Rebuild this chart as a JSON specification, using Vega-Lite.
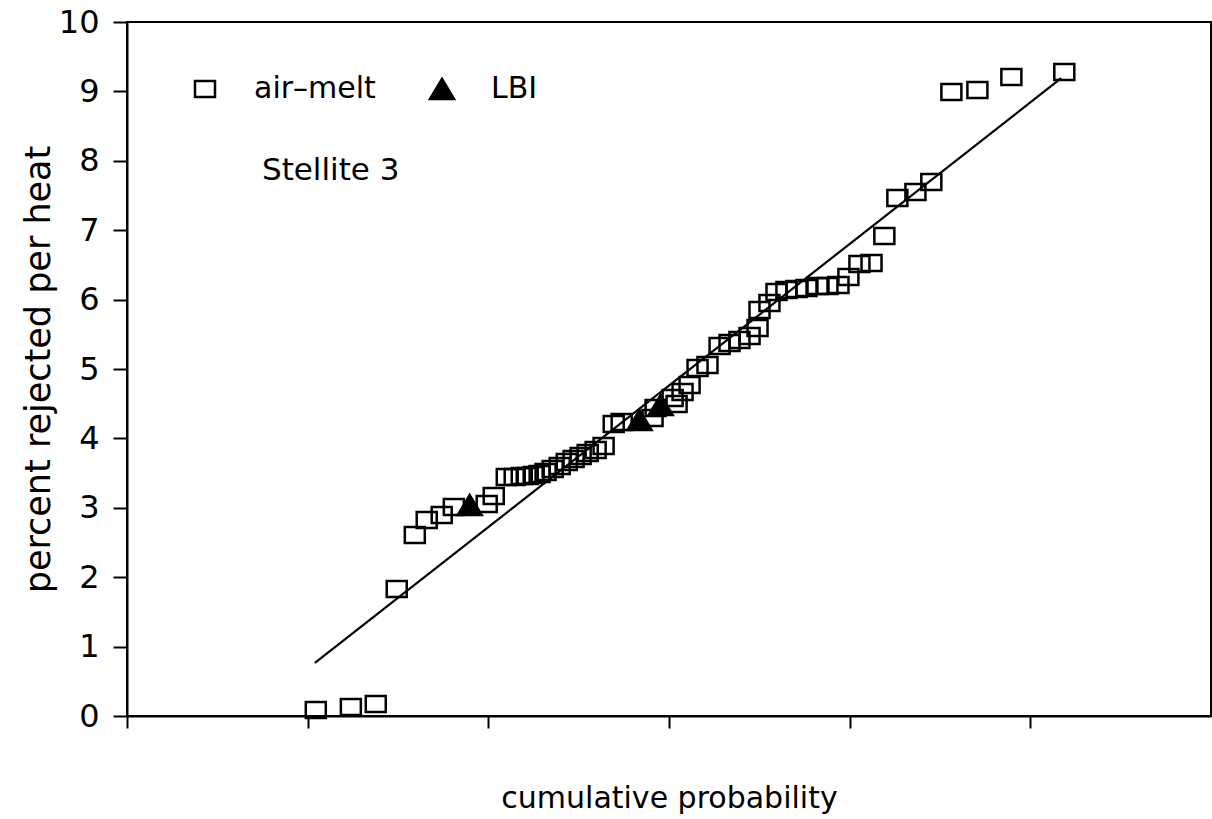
{
  "$schema": "https://vega.github.io/schema/vega-lite/v6.json",
  "autosize": {"type": "none"},
  "width": 1084,
  "height": 694,
  "padding": {"left": 127, "top": 22, "right": 1, "bottom": 103},
  "background": "white",
  "config": {
    "view": {"stroke": "black", "strokeWidth": 2},
    "font": "DejaVu Sans",
    "axis": {
      "domainColor": "black", "domainWidth": 2, "tickColor": "black", "tickWidth": 2,
      "labelColor": "black", "titleColor": "black", "titleFontWeight": "normal",
      "labelFont": "DejaVu Sans", "titleFont": "DejaVu Sans", "grid": false
    },
    "legend": {
      "orient": "none", "legendX": 63, "legendY": 52, "direction": "horizontal",
      "labelFont": "DejaVu Sans", "labelFontSize": 30, "labelColor": "black",
      "labelOffset": 34, "columnPadding": 49, "symbolStrokeWidth": 2.5,
      "title": null
    }
  },
  "datasets": {
    "points": [
      {"p": 1.045, "v": 0.086, "series": "air–melt"},
      {"p": 1.239, "v": 0.13, "series": "air–melt"},
      {"p": 1.377, "v": 0.173, "series": "air–melt"},
      {"p": 1.493, "v": 1.83, "series": "air–melt"},
      {"p": 1.593, "v": 2.608, "series": "air–melt"},
      {"p": 1.659, "v": 2.824, "series": "air–melt"},
      {"p": 1.742, "v": 2.896, "series": "air–melt"},
      {"p": 1.809, "v": 3.012, "series": "air–melt"},
      {"p": 1.991, "v": 3.055, "series": "air–melt"},
      {"p": 2.03, "v": 3.17, "series": "air–melt"},
      {"p": 2.102, "v": 3.444, "series": "air–melt"},
      {"p": 2.146, "v": 3.444, "series": "air–melt"},
      {"p": 2.185, "v": 3.458, "series": "air–melt"},
      {"p": 2.218, "v": 3.458, "series": "air–melt"},
      {"p": 2.251, "v": 3.473, "series": "air–melt"},
      {"p": 2.284, "v": 3.487, "series": "air–melt"},
      {"p": 2.317, "v": 3.516, "series": "air–melt"},
      {"p": 2.356, "v": 3.559, "series": "air–melt"},
      {"p": 2.395, "v": 3.602, "series": "air–melt"},
      {"p": 2.434, "v": 3.66, "series": "air–melt"},
      {"p": 2.472, "v": 3.703, "series": "air–melt"},
      {"p": 2.511, "v": 3.746, "series": "air–melt"},
      {"p": 2.55, "v": 3.79, "series": "air–melt"},
      {"p": 2.594, "v": 3.833, "series": "air–melt"},
      {"p": 2.638, "v": 3.89, "series": "air–melt"},
      {"p": 2.694, "v": 4.207, "series": "air–melt"},
      {"p": 2.738, "v": 4.236, "series": "air–melt"},
      {"p": 2.909, "v": 4.294, "series": "air–melt"},
      {"p": 2.926, "v": 4.438, "series": "air–melt"},
      {"p": 3.02, "v": 4.582, "series": "air–melt"},
      {"p": 3.042, "v": 4.496, "series": "air–melt"},
      {"p": 3.075, "v": 4.669, "series": "air–melt"},
      {"p": 3.114, "v": 4.769, "series": "air–melt"},
      {"p": 3.158, "v": 5.014, "series": "air–melt"},
      {"p": 3.213, "v": 5.058, "series": "air–melt"},
      {"p": 3.28, "v": 5.331, "series": "air–melt"},
      {"p": 3.335, "v": 5.375, "series": "air–melt"},
      {"p": 3.39, "v": 5.418, "series": "air–melt"},
      {"p": 3.446, "v": 5.476, "series": "air–melt"},
      {"p": 3.49, "v": 5.591, "series": "air–melt"},
      {"p": 3.501, "v": 5.85, "series": "air–melt"},
      {"p": 3.556, "v": 5.951, "series": "air–melt"},
      {"p": 3.595, "v": 6.11, "series": "air–melt"},
      {"p": 3.65, "v": 6.138, "series": "air–melt"},
      {"p": 3.706, "v": 6.153, "series": "air–melt"},
      {"p": 3.761, "v": 6.167, "series": "air–melt"},
      {"p": 3.822, "v": 6.196, "series": "air–melt"},
      {"p": 3.877, "v": 6.196, "series": "air–melt"},
      {"p": 3.938, "v": 6.21, "series": "air–melt"},
      {"p": 3.993, "v": 6.326, "series": "air–melt"},
      {"p": 4.054, "v": 6.513, "series": "air–melt"},
      {"p": 4.121, "v": 6.527, "series": "air–melt"},
      {"p": 4.192, "v": 6.916, "series": "air–melt"},
      {"p": 4.264, "v": 7.464, "series": "air–melt"},
      {"p": 4.364, "v": 7.55, "series": "air–melt"},
      {"p": 4.452, "v": 7.695, "series": "air–melt"},
      {"p": 4.563, "v": 8.991, "series": "air–melt"},
      {"p": 4.707, "v": 9.02, "series": "air–melt"},
      {"p": 4.895, "v": 9.207, "series": "air–melt"},
      {"p": 5.188, "v": 9.28, "series": "air–melt"},
      {"p": 1.897, "v": 3.04, "series": "LBI"},
      {"p": 2.837, "v": 4.265, "series": "LBI"},
      {"p": 2.954, "v": 4.481, "series": "LBI"}
    ],
    "fit": [
      {"p": 1.04, "v": 0.764},
      {"p": 5.171, "v": 9.19}
    ],
    "notes": [
      {"label": "Stellite 3"}
    ]
  },
  "layer": [
    {
      "data": {"name": "fit"},
      "mark": {"type": "line", "color": "black", "strokeWidth": 2.2},
      "encoding": {
        "x": {"field": "p", "type": "quantitative", "scale": {"domain": [0, 6], "nice": false, "zero": false},
              "axis": {"values": [0, 1, 2, 3, 4, 5], "labels": false, "tickSize": 12, "title": "cumulative probability", "titleFontSize": 30, "titlePadding": 54}},
        "y": {"field": "v", "type": "quantitative", "scale": {"domain": [0, 10], "nice": false},
              "axis": {"values": [0, 1, 2, 3, 4, 5, 6, 7, 8, 9, 10], "format": "d", "tickSize": 14, "labelFontSize": 32, "labelPadding": 14, "title": "percent rejected per heat", "titleFontSize": 35, "titlePadding": 2}}
      }
    },
    {
      "data": {"name": "points"},
      "mark": {"type": "point", "filled": true, "strokeWidth": 2.5, "opacity": 1},
      "encoding": {
        "x": {"field": "p", "type": "quantitative"},
        "y": {"field": "v", "type": "quantitative"},
        "shape": {"field": "series", "type": "nominal", "scale": {"domain": ["air–melt", "LBI"], "range": ["M-1.25,-1H1.25V1H-1.25Z", "M0,-1L1.2,1L-1.2,1Z"]}},
        "fill": {"field": "series", "type": "nominal", "scale": {"domain": ["air–melt", "LBI"], "range": ["transparent", "black"]}},
        "stroke": {"field": "series", "type": "nominal", "scale": {"domain": ["air–melt", "LBI"], "range": ["black", "black"]}},
        "size": {"field": "series", "type": "nominal", "scale": {"domain": ["air–melt", "LBI"], "range": [256, 400]}}
      }
    },
    {
      "data": {"name": "notes"},
      "mark": {"type": "text", "align": "left", "baseline": "alphabetic", "fontSize": 31, "font": "DejaVu Sans", "color": "black"},
      "encoding": {
        "x": {"datum": 0.747},
        "y": {"datum": 7.723},
        "text": {"field": "label"}
      }
    }
  ]
}
